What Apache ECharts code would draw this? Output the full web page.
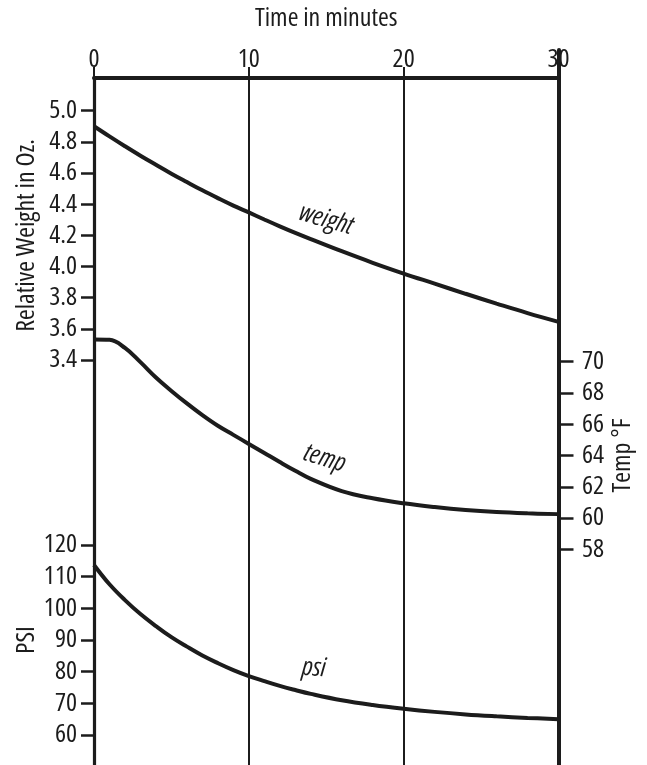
<!DOCTYPE html>
<html>
<head>
<meta charset="utf-8">
<script src="https://cdn.jsdelivr.net/npm/echarts@6/dist/echarts.min.js"></script>
<style>
html,body{margin:0;padding:0;background:#fff;}
#chart{width:647px;height:765px;}
</style>
</head>
<body>
<div id="chart"></div>
<script>
// ---- data ----
const timeMinutes = [0,1,2,3,4,5,6,7,8,9,10,11,12,13,14,16,18,20,22,24,26,28,30];
const weightOz = [4.90,4.835,4.772,4.711,4.653,4.596,4.542,4.489,4.439,4.391,4.347,4.302,4.258,4.216,4.176,4.098,4.024,3.955,3.890,3.825,3.762,3.701,3.645];
const tempF    = [71.42,71.40,70.88,69.97,68.99,68.13,67.33,66.58,65.90,65.32,64.74,64.16,63.58,63.02,62.50,61.72,61.26,60.94,60.70,60.51,60.38,60.30,60.25];
const psi      = [113.7,107.6,102.6,98.2,94.4,90.9,87.9,85.1,82.7,80.5,78.6,77.0,75.5,74.2,73.0,71.0,69.5,68.3,67.3,66.5,65.9,65.4,65.0];
const timeTicks = [0,10,20,30];
const weightRange = [3.4,5.0];
const tempRange = [58,70];
const psiRange = [60,120];
const seriesNames = ['weight','temp','psi'];
const axisTitles = {x:'Time in minutes', weight:'Relative Weight in Oz.', temp:'Temp °F', psi:'PSI'};

// ---- font selection (narrowest available condensed face) ----
function pickFont(){
  const ctx = document.createElement('canvas').getContext('2d');
  const sample = axisTitles.x;
  const cands = [
    {family:"'Noto Sans'", weight:'normal extra-condensed'},
    {family:"'Noto Sans'", weight:'normal condensed'},
    {family:"'Open Sans'", weight:'normal condensed'},
    {family:"'DejaVu Sans Condensed'", weight:'normal'}
  ];
  let best = null;
  cands.forEach(f=>{
    ctx.font = '25px serif';
    const spec = 'normal ' + f.weight + ' 25px ' + f.family;
    ctx.font = spec;
    if (ctx.font.indexOf('25px') < 0 || ctx.font.indexOf('serif') === 0) return;
    const w = ctx.measureText(sample).width;
    if (!best || w < best.w - 0.5) best = {family:f.family, weight:f.weight, w:w};
  });
  if (!best) best = {family:"'DejaVu Sans Condensed'", weight:'normal', w:181};
  function measure(text, size, style){
    ctx.font = (style||'normal') + ' ' + best.weight + ' ' + size + 'px ' + best.family;
    return ctx.measureText(text).width;
  }
  best.size = (text, target, cap) => Math.min(cap, 25 * target / measure(text, 25));
  best.isize = (text, target, cap) => Math.min(cap, 25 * target / measure(text, 25, 'italic'));
  return best;
}
const F = pickFont();
const FAM = F.family + ",'DejaVu Sans Condensed',sans-serif";
const FW = F.weight;
const titleSize = F.size(axisTitles.x, 145, 26);
const yTitleSize = F.size(axisTitles.weight, 203, 26);
const tickSize = F.size('4.8', 30.5, 26);
const curveSize = F.isize('weight', 58, 26);

// ---- style ----
const INK = '#1c1c1c';
const L = 94, R = 88.5;

function pairs(ys){ return timeMinutes.map((t,i)=>[t, ys[i]]); }

const gridBase = {left:L, right:R, containLabel:false, outerBoundsMode:'none'};
const grids = [
  Object.assign({top:78, bottom:0}, gridBase),        // main frame
  Object.assign({top:110.7, bottom:405}, gridBase),   // weight scale
  Object.assign({top:361.7, bottom:215.7}, gridBase), // temp scale
  Object.assign({top:545, bottom:30}, gridBase),      // psi scale
  Object.assign({top:50, bottom:0}, gridBase)         // right border
];

const hiddenX = i => ({gridIndex:i, type:'value', min:timeTicks[0], max:timeTicks[timeTicks.length-1], show:false});

const tickText = {color:INK, fontFamily:FAM, fontWeight:FW, fontSize:tickSize};
const xNameStyle = {color:INK, fontFamily:FAM, fontWeight:FW, fontSize:titleSize};
const yNameStyle = {color:INK, fontFamily:FAM, fontWeight:FW, fontSize:yTitleSize};

function curveLabel(text, coord, rot){
  return {
    symbol:'circle', symbolSize:0, silent:true,
    label:{show:true, formatter:text, color:INK, fontFamily:FAM, fontWeight:FW, fontSize:curveSize, fontStyle:'italic', rotate:rot, position:'inside'},
    data:[{coord:coord}]
  };
}

const option = {
  backgroundColor:'#fff',
  animation:false,
  grid:grids,
  xAxis:[
    {gridIndex:0, type:'value', position:'top', min:timeTicks[0], max:timeTicks[timeTicks.length-1], interval:10,
     name:axisTitles.x, nameLocation:'middle', nameGap:46, nameTextStyle:xNameStyle, nameMoveOverlap:false,
     axisLine:{show:true, onZero:false, lineStyle:{color:INK, width:4}},
     axisTick:{show:true, inside:false, length:11, lineStyle:{color:INK, width:2}},
     axisLabel:Object.assign({margin:5.5}, tickText),
     splitLine:{show:true, lineStyle:{color:INK, width:2}}},
    hiddenX(1), hiddenX(2), hiddenX(3), hiddenX(4)
  ],
  yAxis:[
    {gridIndex:0, type:'value', position:'left', min:0, max:1,
     axisLine:{show:true, onZero:false, lineStyle:{color:INK, width:3.2}}, axisTick:{show:false}, axisLabel:{show:false}, splitLine:{show:false}},
    {gridIndex:1, type:'value', position:'left', min:weightRange[0], max:weightRange[1], interval:0.2,
     name:axisTitles.weight, nameLocation:'middle', nameGap:54, nameRotate:90, nameTextStyle:yNameStyle, nameMoveOverlap:false,
     axisLine:{show:false, onZero:false}, axisTick:{show:true, length:13, lineStyle:{color:INK, width:2.5}},
     axisLabel:Object.assign({margin:17, formatter:v=>v.toFixed(1)}, tickText), splitLine:{show:false}},
    {gridIndex:2, type:'value', position:'right', min:tempRange[0], max:tempRange[1], interval:2,
     name:axisTitles.temp, nameLocation:'middle', nameGap:51, nameRotate:90, nameTextStyle:yNameStyle, nameMoveOverlap:false,
     axisLine:{show:false, onZero:false}, axisTick:{show:true, length:15, lineStyle:{color:INK, width:2.5}},
     axisLabel:Object.assign({margin:23.5}, tickText), splitLine:{show:false}},
    {gridIndex:3, type:'value', position:'left', min:psiRange[0], max:psiRange[1], interval:10,
     name:axisTitles.psi, nameLocation:'middle', nameGap:54, nameRotate:90, nameTextStyle:yNameStyle, nameMoveOverlap:false,
     axisLine:{show:false, onZero:false}, axisTick:{show:true, length:13, lineStyle:{color:INK, width:2.5}},
     axisLabel:Object.assign({margin:17}, tickText), splitLine:{show:false}},
    {gridIndex:4, type:'value', position:'right', min:0, max:1,
     axisLine:{show:true, onZero:false, lineStyle:{color:INK, width:4}}, axisTick:{show:false}, axisLabel:{show:false}, splitLine:{show:false}}
  ],
  series:[
    {name:seriesNames[0], type:'line', xAxisIndex:1, yAxisIndex:1, data:pairs(weightOz), smooth:0.4, showSymbol:false, clip:false,
     lineStyle:{color:INK, width:4}, markPoint:curveLabel(seriesNames[0],[15.0,4.30],-16)},
    {name:seriesNames[1], type:'line', xAxisIndex:2, yAxisIndex:2, data:pairs(tempF), smooth:0.4, showSymbol:false, clip:false,
     lineStyle:{color:INK, width:4}, markPoint:curveLabel(seriesNames[1],[14.9,63.8],-17)},
    {name:seriesNames[2], type:'line', xAxisIndex:3, yAxisIndex:3, data:pairs(psi), smooth:0.4, showSymbol:false, clip:false,
     lineStyle:{color:INK, width:4}, markPoint:curveLabel(seriesNames[2],[14.2,81.1],-4)}
  ]
};

const chart = echarts.init(document.getElementById('chart'), null, {renderer:'canvas'});
chart.setOption(option);
</script>
</body>
</html>
